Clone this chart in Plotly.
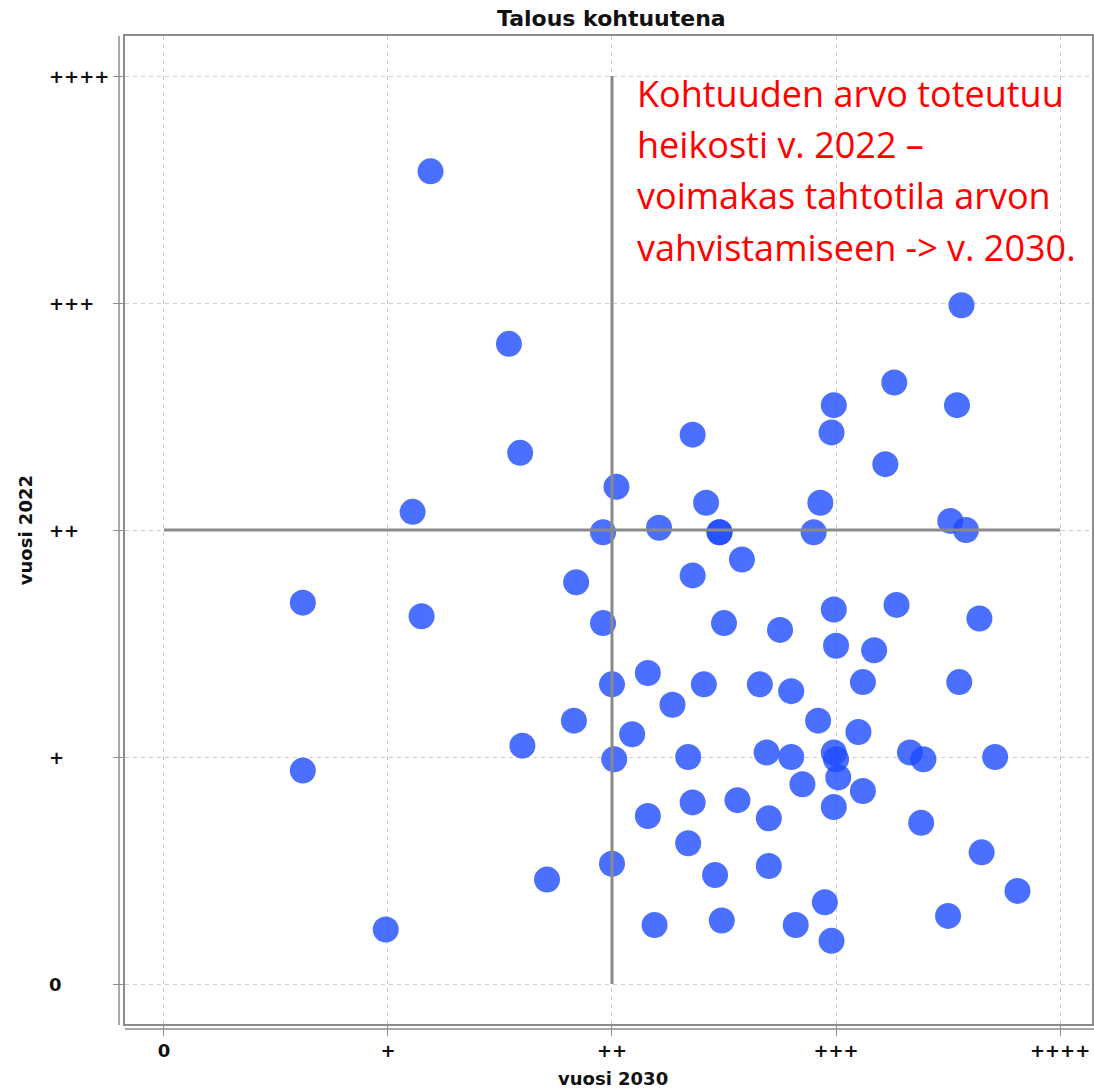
import plotly.graph_objects as go

# --- data (0 = "0", 1 = "+", ... 4 = "++++") ---
x_2030 = [1.19, 3.56, 1.54, 3.26, 2.99, 3.54, 2.36, 2.98, 1.59, 3.22,
          2.02, 2.42, 2.93, 1.11, 2.21, 1.96, 2.48, 2.48, 2.90, 3.51,
          3.58, 2.58, 1.84, 2.36, 0.62, 1.15, 2.99, 3.27, 1.96, 2.50,
          2.75, 3.64, 3.00, 3.17, 2.16, 2.00, 2.41, 2.66, 2.80, 3.12,
          3.55, 2.27, 1.83, 2.92, 2.09, 3.10, 1.60, 2.69, 2.80, 2.34,
          2.01, 2.99, 3.00, 3.33, 3.39, 3.71, 0.62, 3.01, 2.85, 3.12,
          2.56, 2.36, 2.99, 2.16, 2.70, 3.38, 2.34, 3.65, 2.00, 2.70,
          2.46, 1.71, 3.81, 2.95, 0.99, 2.19, 2.49, 2.82, 3.50, 2.98]
y_2022 = [3.58, 2.99, 2.82, 2.65, 2.55, 2.55, 2.42, 2.43, 2.34, 2.29,
          2.19, 2.12, 2.12, 2.08, 2.01, 1.99, 1.99, 1.99, 1.99, 2.04,
          2.00, 1.87, 1.77, 1.80, 1.68, 1.62, 1.65, 1.67, 1.59, 1.59,
          1.56, 1.61, 1.49, 1.47, 1.37, 1.32, 1.32, 1.32, 1.29, 1.33,
          1.33, 1.23, 1.16, 1.16, 1.10, 1.11, 1.05, 1.02, 1.00, 1.00,
          0.99, 1.02, 0.99, 1.02, 0.99, 1.00, 0.94, 0.91, 0.88, 0.85,
          0.81, 0.80, 0.78, 0.74, 0.73, 0.71, 0.62, 0.58, 0.53, 0.52,
          0.48, 0.46, 0.41, 0.36, 0.24, 0.26, 0.28, 0.26, 0.30, 0.19]
tick_vals = [0, 1, 2, 3, 4]
tick_text = ["0", "+", "++", "+++", "++++"]
divider = 2
note_lines = ["Kohtuuden arvo toteutuu",
              "heikosti v. 2022 \u2013",
              "voimakas tahtotila arvon",
              "vahvistamiseen -> v. 2030."]

W, H = 1094, 1088
ML, MR, MT, MB = 125, 0, 36, 64
x0_px, ux = 164, 224.5      # pixel of value 0, px per unit
y0_px, uy = 984, 227
xr = [(ML - x0_px) / ux, (W - MR - x0_px) / ux]
yr = [(y0_px - (H - MB)) / uy, (y0_px - MT) / uy]
pw = W - ML - MR
ph = H - MT - MB

fig = go.Figure()
fig.add_trace(go.Scatter(
    x=x_2030, y=y_2022, mode="markers",
    marker=dict(size=26, color="rgba(30,75,255,0.80)", line=dict(width=0)),
    hoverinfo="x+y", showlegend=False))
# quadrant dividers
fig.add_trace(go.Scatter(x=[divider, divider], y=[tick_vals[0], tick_vals[-1]],
                         mode="lines", line=dict(color="#8a8a8a", width=3),
                         showlegend=False, hoverinfo="skip"))
fig.add_trace(go.Scatter(x=[tick_vals[0], tick_vals[-1]], y=[divider, divider],
                         mode="lines", line=dict(color="#8a8a8a", width=3),
                         showlegend=False, hoverinfo="skip"))

axis_common = dict(showgrid=True, gridcolor="#cccccc", griddash="4px,4px", gridwidth=1,
                   zeroline=False, showline=True, linecolor="#8c8c8c", linewidth=1.5,
                   mirror=True, ticks="outside", ticklen=10, tickcolor="#8c8c8c",
                   tickwidth=1, tickvals=tick_vals)
fig.update_xaxes(range=xr, ticktext=["<b>%s</b>" % t for t in tick_text],
                 tickfont=dict(family="DejaVu Sans", size=18, color="#111"),
                 **axis_common)
fig.update_yaxes(range=yr, showticklabels=False, **axis_common)

ann = []
# y tick labels, left-aligned as in reference
for v, t in zip(tick_vals, tick_text):
    ann.append(dict(x=(47 - ML) / pw, xref="paper", y=v, yref="y",
                    text="<b>%s</b>" % t, showarrow=False, xanchor="left", yanchor="middle",
                    font=dict(family="DejaVu Sans", size=18, color="#111")))
# axis titles
ann.append(dict(x=(614 - ML) / pw, xref="paper", y=(H - MB - 1078) / ph, yref="paper",
                text="<b>vuosi 2030</b>", showarrow=False, xanchor="center", yanchor="middle",
                font=dict(family="DejaVu Sans", size=18, color="#111")))
ann.append(dict(x=(25 - ML) / pw, xref="paper", y=(H - MB - 530) / ph, yref="paper",
                text="<b>vuosi 2022</b>", showarrow=False, textangle=-90,
                xanchor="center", yanchor="middle",
                font=dict(family="DejaVu Sans", size=18, color="#111")))
# title
ann.append(dict(x=(613 - ML) / pw, xref="paper", y=(H - MB - 19) / ph, yref="paper",
                text="<b>Talous kohtuutena</b>", showarrow=False, xanchor="center",
                yanchor="middle", font=dict(family="DejaVu Sans", size=22, color="#111")))
# red note
for i, line in enumerate(note_lines):
    ann.append(dict(x=(636 - ML) / pw, xref="paper", y=(H - MB - (93 + 51.5 * i)) / ph,
                    yref="paper", text=line, showarrow=False, xanchor="left",
                    yanchor="middle", font=dict(family="Open Sans", size=36, color="#ff0000")))

shapes = [
    # separate outer axis lines
    dict(type="line", xref="paper", yref="paper", x0=-6 / pw, x1=-6 / pw, y0=1, y1=-1 / ph,
         line=dict(color="#8c8c8c", width=1.5)),
    dict(type="line", xref="paper", yref="paper", x0=0, x1=1.01, y0=-5 / ph, y1=-5 / ph,
         line=dict(color="#8c8c8c", width=1.5)),
]

fig.update_layout(width=W, height=H, margin=dict(l=ML, r=MR, t=MT, b=MB),
                  plot_bgcolor="white", paper_bgcolor="white",
                  annotations=ann, shapes=shapes, showlegend=False)
fig.write_html("out.html", config={"displayModeBar": False},
               post_script="document.body.style.margin='0';document.body.style.overflow='hidden';")
